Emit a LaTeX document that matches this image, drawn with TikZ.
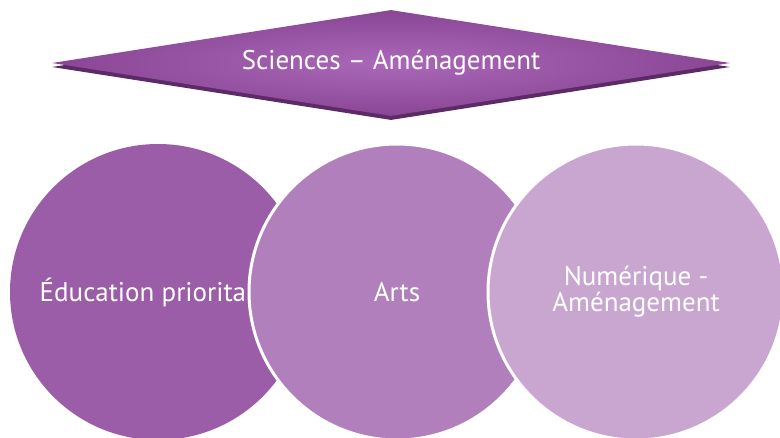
\documentclass[tikz,border=0pt]{standalone}
\usepackage{fontspec}
\setmainfont{PT Sans}
\usetikzlibrary{shapes.geometric,shadows,positioning}
\definecolor{circA}{HTML}{9B5CA8}
\definecolor{circB}{HTML}{B07FBC}
\definecolor{circC}{HTML}{C8A6D0}
\definecolor{diaIn}{HTML}{AA68B8}
\definecolor{diaOut}{HTML}{8A4695}
\definecolor{diaShadow}{HTML}{5C2A66}
\begin{document}
\begin{tikzpicture}[x=1pt, y=-1pt, node distance={239pt}, text=white,
  font=\fontsize{27}{26}\selectfont,
  main/.style = {circle, inner sep=0pt, minimum size=296pt, align=center},
  banner/.style = {diamond, inner sep=0pt, shape aspect=6.5, minimum width=678pt, minimum height=106pt,
    shading=radial, inner color=diaIn, outer color=diaOut,
    drop shadow={shadow xshift=0pt, shadow yshift=-4pt, fill=diaShadow, opacity=1}}]
    \useasboundingbox (0,0) rectangle (780,437);
    \node[banner] (sci) at (391,63) {Sciences – Aménagement};
    \node[main, fill=circA] (1) at (158,292) {Éducation prioritaire};
    \node[main, fill=circB, draw=white, line width=3pt] (2) [right of=1] {Arts};
    \node[main, fill=circC, draw=white, line width=3pt] (3) [right of=2] {Numérique -\\Aménagement};
\end{tikzpicture}
\end{document}
